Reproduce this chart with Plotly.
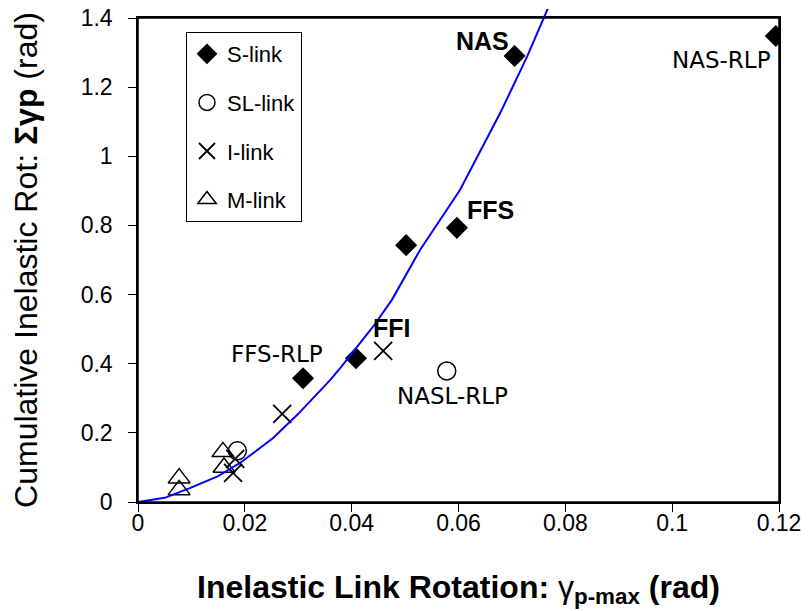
import plotly.graph_objects as go

# ---- data ----
s_x = [0.0309, 0.0408, 0.0502, 0.0597, 0.0705, 0.1194]
s_y = [0.358, 0.416, 0.743, 0.793, 1.290, 1.348]

sl_x = [0.0186, 0.0578]
sl_y = [0.148, 0.379]

i_x = [0.0178, 0.0182, 0.0270, 0.0459]
i_y = [0.084, 0.125, 0.255, 0.437]

m_x = [0.0077, 0.0077, 0.0159, 0.0161]
m_y = [0.069, 0.035, 0.145, 0.100]

fit_x = [0.0, 0.005, 0.0097, 0.0150, 0.0191, 0.0253, 0.0300, 0.0360, 0.0380, 0.0440,
         0.0475, 0.0528, 0.0603, 0.0678, 0.0728, 0.0758, 0.0768]
fit_y = [0.0, 0.012, 0.040, 0.075, 0.113, 0.185, 0.255, 0.353, 0.390, 0.507,
         0.584, 0.729, 0.903, 1.125, 1.287, 1.394, 1.430]

label_text = ["<b>NAS</b>", "<b>FFS</b>", "<b>FFI</b>", "FFS-RLP", "NASL-RLP", "NAS-RLP"]
label_x = [0.0644, 0.0659, 0.0475, 0.0260, 0.0588, 0.1093]
label_y = [1.334, 0.845, 0.503, 0.428, 0.307, 1.279]
label_bold = [True, True, True, False, False, False]

x_ticks = [0, 0.02, 0.04, 0.06, 0.08, 0.1, 0.12]
x_tick_text = ["0", "0.02", "0.04", "0.06", "0.08", "0.1", "0.12"]
y_ticks = [0, 0.2, 0.4, 0.6, 0.8, 1.0, 1.2, 1.4]
y_tick_text = ["0", "0.2", "0.4", "0.6", "0.8", "1", "1.2", "1.4"]

ARIAL = "Liberation Sans, Arial, sans-serif"
DEJAVU = "DejaVu Sans, sans-serif"

# page body has an 8px margin, so the figure is sized to fit the window
W, H = 804, 603
mt, mb, ml, mr = 1, 109, 130, 33
plot_h = H - mt - mb
plot_w = W - ml - mr
main_top = 484 / plot_h

fig = go.Figure()

# fitted curve on a taller overlay subplot so it can run slightly past the frame top
fig.add_trace(go.Scatter(x=fit_x, y=fit_y, mode="lines", xaxis="x2", yaxis="y2",
                         line=dict(color="#0000ff", width=2), showlegend=False,
                         hoverinfo="skip"))

fig.add_trace(go.Scatter(x=s_x, y=s_y, mode="markers", name="S-link", legendgroup="a",
                         marker=dict(symbol="diamond", size=17, color="black",
                                     line=dict(width=0))))
fig.add_trace(go.Scatter(x=sl_x, y=sl_y, mode="markers", name="SL-link", legendgroup="b",
                         marker=dict(symbol="circle-open", size=18, color="black",
                                     line=dict(width=1.5, color="black"))))
fig.add_trace(go.Scatter(x=i_x, y=i_y, mode="markers", name="I-link", legendgroup="c",
                         marker=dict(symbol="x-thin", size=18, color="black",
                                     line=dict(width=1.8, color="black"))))
fig.add_trace(go.Scatter(x=m_x, y=m_y, mode="markers", name="M-link", legendgroup="d",
                         marker=dict(symbol="triangle-up-open", size=19, color="black",
                                     line=dict(width=1.5, color="black"))))

for t, x, y, b in zip(label_text, label_x, label_y, label_bold):
    fig.add_annotation(x=x, y=y, xref="x", yref="y", text=t, showarrow=False,
                       font=dict(family=ARIAL if b else DEJAVU,
                                 size=25 if b else 23, color="black"))

# plot frame
fig.add_shape(type="rect", xref="x domain", yref="y domain", x0=0, x1=1, y0=0, y1=1,
              line=dict(color="black", width=1.5), fillcolor="rgba(0,0,0,0)",
              layer="above")

fig.update_layout(
    width=W, height=H,
    margin=dict(l=ml, r=mr, t=mt, b=mb),
    paper_bgcolor="white", plot_bgcolor="rgba(0,0,0,0)",
    font=dict(family=ARIAL, color="black", size=22),
    xaxis=dict(range=[0, 0.12], tickvals=x_ticks, ticktext=x_tick_text,
               showgrid=False, zeroline=False, showline=True, linecolor="black",
               linewidth=1.5, mirror=True, ticks="outside", ticklen=8, tickwidth=1,
               tickcolor="black", tickfont=dict(family=ARIAL, size=23),
               ticklabelstandoff=-8, automargin=False, ticklabeloverflow="allow",
               title=dict(text="<b>Inelastic Link Rotation: </b>γ<sub><b>p-max</b></sub><b> (rad)</b>",
                          font=dict(family=ARIAL, size=32), standoff=40),
               anchor="y", domain=[0, 1]),
    yaxis=dict(range=[0, 1.4], tickvals=y_ticks, ticktext=y_tick_text,
               showgrid=False, zeroline=False, showline=True, linecolor="black",
               linewidth=1.5, mirror=True, ticks="outside", ticklen=8, tickwidth=1,
               tickcolor="black", tickfont=dict(family=ARIAL, size=23),
               ticklabelstandoff=11, automargin=False, ticklabeloverflow="allow",
               title=dict(text="Cumulative Inelastic Rot: <b>Σγp</b> (rad)",
                          font=dict(family=ARIAL, size=32), standoff=34),
               anchor="x", domain=[0, main_top]),
    xaxis2=dict(range=[0, 0.12], visible=False, anchor="y2", domain=[0, 1]),
    yaxis2=dict(range=[0, 1.4 / main_top], visible=False, anchor="x2", domain=[0, 1]),
    legend=dict(x=(186 - 8 - ml) / plot_w, y=(H - mb - 24) / plot_h,
                xanchor="left", yanchor="top", bgcolor="white",
                bordercolor="black", borderwidth=1,
                font=dict(family=ARIAL, size=22), tracegroupgap=17,
                itemwidth=30),
    showlegend=True,
)

fig.write_html("out.html")
